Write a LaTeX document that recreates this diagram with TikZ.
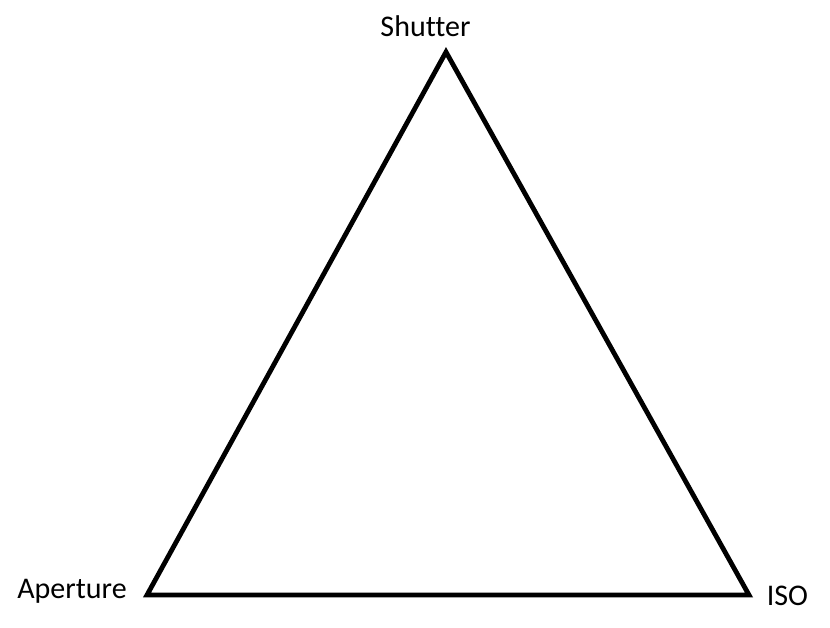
\documentclass[tikz,border=0pt]{standalone}
\usepackage{fontspec}
\setmainfont[Ligatures={NoCommon}]{Carlito}
\begin{document}
\begin{tikzpicture}[x=1bp,y=-1bp,
  lbl/.style={inner sep=0pt,anchor=base,font=\fontsize{30bp}{36bp}\selectfont},
  tri/.style={draw=black,line width=4.8bp,line join=miter}]
\useasboundingbox (0,0) rectangle (830,628);
\coordinate (top) at (446,52);
\coordinate (bl) at (147,595);
\coordinate (br) at (749,595);
\draw[tri] (top) -- (bl) -- (br) -- cycle;
\node[lbl] (shutter) at (425.5,37) {Shutter};
\node[lbl] (aperture) at (72,598) {Aperture};
\node[lbl] (iso) at (787.5,605) {ISO};
\end{tikzpicture}
\end{document}
